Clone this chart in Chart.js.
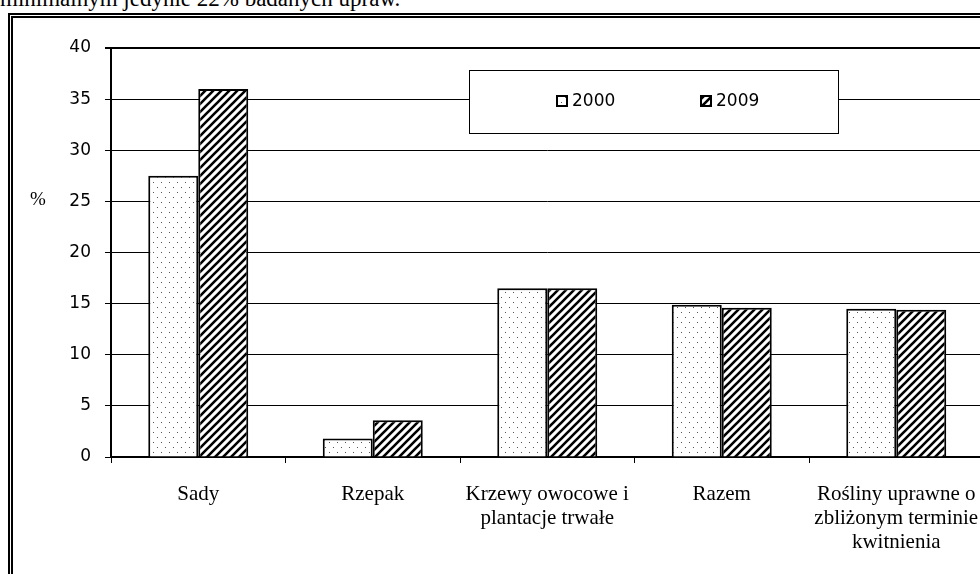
<!DOCTYPE html>
<html>
<head>
<meta charset="utf-8">
<script src="https://cdn.jsdelivr.net/npm/chart.js@4/dist/chart.umd.min.js"></script>
<style>
  html, body { margin: 0; padding: 0; background: #fff; overflow: hidden; }
  body { width: 980px; height: 574px; position: relative; }
  #topline { position: absolute; left: 0; top: -14px; font: 23px "Liberation Serif", serif; color: #000; white-space: nowrap; }
  #frame { position: absolute; left: 8px; top: 13px; width: 1100px; height: 700px; border: 5px double #000; }
  #wrap { position: absolute; left: 0; top: 0; width: 1000px; height: 574px; }
</style>
</head>
<body>
<div id="topline">minimalnym jedynie 22% badanych upraw.</div>
<div id="frame"></div>
<div id="wrap"><canvas id="myChart" width="1000" height="574"></canvas></div>
<script>
const categories = [
    "Sady",
    "Rzepak",
    ["Krzewy owocowe i", "plantacje trwałe"],
    "Razem",
    ["Rośliny uprawne o", "zbliżonym terminie", "kwitnienia"]
];
const seriesNames = ["2000", "2009"];
const values2000 = [27.5, 1.8, 16.5, 14.9, 14.5];
const values2009 = [36.0, 3.6, 16.5, 14.6, 14.4];
const yTicks = [0, 5, 10, 15, 20, 25, 30, 35, 40];

const canvas = document.getElementById("myChart");
const ctx = canvas.getContext("2d");

// dotted fill for 2000
function dotPattern() {
    const c = document.createElement("canvas");
    c.width = 8; c.height = 10;
    const g = c.getContext("2d");
    g.fillStyle = "#fff";
    g.fillRect(0, 0, 8, 10);
    g.fillStyle = "#555";
    g.fillRect(1, 2, 1, 1);
    g.fillRect(5, 7, 1, 1);
    return ctx.createPattern(c, "repeat");
}

// diagonal hatch for 2009
function hatchPattern() {
    const s = 8;
    const c = document.createElement("canvas");
    c.width = s; c.height = s;
    const g = c.getContext("2d");
    g.fillStyle = "#fff";
    g.fillRect(0, 0, s, s);
    g.strokeStyle = "#000";
    g.lineWidth = 2.6;
    g.beginPath();
    g.moveTo(-1, s + 1); g.lineTo(s + 1, -1);
    g.moveTo(-2, 2); g.lineTo(2, -2);
    g.moveTo(s - 2, s + 2); g.lineTo(s + 2, s - 2);
    g.stroke();
    return ctx.createPattern(c, "repeat");
}

const fills = [dotPattern(), hatchPattern()];

const boxLegend = {
    id: "boxLegend",
    afterDraw(chart) {
        const c = chart.ctx;
        const a = chart.chartArea;
        c.save();
        // "%" unit label
        c.fillStyle = "#000";
        c.font = "19px 'Liberation Serif', serif";
        c.textAlign = "center";
        c.textBaseline = "middle";
        c.fillText("%", 38, 200);
        // legend box
        const bx = a.left + 358, by = a.top + 22, bw = 369, bh = 63;
        c.fillStyle = "#fff";
        c.fillRect(bx, by, bw, bh);
        c.strokeStyle = "#000";
        c.lineWidth = 1;
        c.strokeRect(bx + 0.5, by + 0.5, bw, bh);
        const itemX = [bx + 88, bx + 232];
        chart.data.datasets.forEach((ds, i) => {
            const ix = itemX[i], iy = by + 26;
            c.fillStyle = ds.backgroundColor;
            c.fillRect(ix, iy, 10, 10);
            c.lineWidth = 2;
            c.strokeStyle = "#000";
            c.strokeRect(ix, iy, 10, 10);
            c.fillStyle = "#000";
            c.font = "17px 'DejaVu Sans', sans-serif";
            c.textAlign = "left";
            c.textBaseline = "middle";
            c.fillText(ds.label, ix + 15, iy + 6);
        });
        c.restore();
    }
};

new Chart(ctx, {
    type: "bar",
    data: {
        labels: categories,
        datasets: [
            { label: seriesNames[0], data: values2000, backgroundColor: fills[0], borderColor: "#000", borderWidth: 2 },
            { label: seriesNames[1], data: values2009, backgroundColor: fills[1], borderColor: "#000", borderWidth: 2 }
        ]
    },
    options: {
        responsive: false,
        animation: false,
        categoryPercentage: 0.573,
        barPercentage: 1,
        layout: { padding: { top: 48, right: 16.5, bottom: 0, left: 0 } },
        plugins: {
            legend: { display: false },
            tooltip: { enabled: false }
        },
        scales: {
            x: {
                afterFit: s => { s.height = 117; },
                border: { color: "#000", width: 2 },
                grid: { drawOnChartArea: false, drawTicks: true, tickLength: 6, color: "#000", offset: true },
                ticks: {
                    autoSkip: false, maxRotation: 0, padding: 19,
                    color: "#000",
                    font: { family: "'Liberation Serif', serif", size: 21, lineHeight: 1.15 }
                }
            },
            y: {
                min: 0, max: 40,
                afterFit: s => { s.width = 111; },
                afterBuildTicks: s => { s.ticks = yTicks.map(v => ({ value: v })); },
                border: { color: "#000", width: 2 },
                grid: {
                    color: "#000",
                    lineWidth: c => (c.tick && c.tick.value === 40 ? 2 : 1),
                    tickLength: 6
                },
                ticks: {
                    padding: 14,
                    color: "#000",
                    font: { family: "'DejaVu Sans', sans-serif", size: 17 }
                }
            }
        }
    },
    plugins: [boxLegend]
});
</script>
</body>
</html>
